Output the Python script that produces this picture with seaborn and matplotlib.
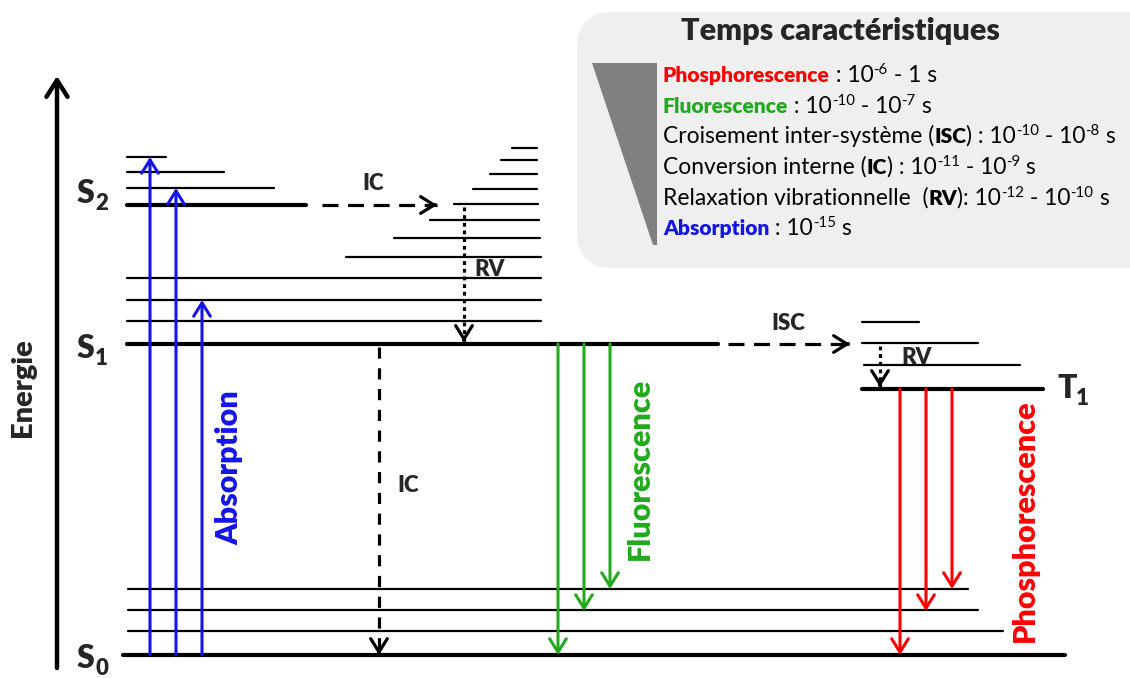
import matplotlib
matplotlib.use("Agg")
import matplotlib.pyplot as plt
from matplotlib.patches import FancyBboxPatch, Polygon
import seaborn as sns
import pandas as pd

# ---------------- data (diagram coordinates, image pixel units) ----------------
# energy levels: (y, x_start, x_end)
thick_levels_y = [655, 344, 205, 389]          # S0, S1, S2, T1
thick_levels_x0 = [123, 127, 127, 862]
thick_levels_x1 = [1065, 718, 306, 1043]

thin_levels_y = [631, 610, 589,                 # S0 vibrational
                 321, 300, 278,                 # S1 vibrational (long)
                 257, 238, 220, 204, 189, 174, 160, 148,   # S1 ladder to S2
                 188, 172, 157,                 # S2 vibrational
                 322, 343, 365]                 # T1 vibrational
thin_levels_x0 = [128, 128, 128,
                  127, 127, 127,
                  346, 394, 430, 454, 473, 490, 501, 512,
                  127, 127, 127,
                  862, 862, 864]
thin_levels_x1 = [1003, 978, 968,
                  541, 541, 541,
                  541, 540, 539, 538, 537, 537, 537, 537,
                  274, 224, 166,
                  919, 978, 1020]

absorption_x = [150, 176, 202]
absorption_top = [157, 188, 300]
fluo_x = [558, 584, 610]
fluo_end = [655, 611, 589]
phospho_x = [900, 926, 952]
phospho_end = [655, 611, 589]

level_labels = ["S", "S", "S", "T"]
level_subs = ["2", "1", "0", "1"]

legend_title = "Temps caractéristiques"

BLUE = "#1414e6"
GREEN = "#22aa1e"
RED = "#ff0000"
HEAVY = 800

# ---------------- figure ----------------
sns.set_theme(style="white")
plt.rcParams["font.family"] = ["Lato", "DejaVu Sans"]

fig = plt.figure(figsize=(11.3, 6.78), dpi=100)
ax = fig.add_axes([0, 0, 1, 1])

rows = []
for i, (y, a, b) in enumerate(zip(thin_levels_y, thin_levels_x0, thin_levels_x1)):
    rows += [dict(x=a, y=y, seg=i), dict(x=b, y=y, seg=i)]
df_thin = pd.DataFrame(rows)
rows = []
for i, (y, a, b) in enumerate(zip(thick_levels_y, thick_levels_x0, thick_levels_x1)):
    rows += [dict(x=a, y=y, seg=i), dict(x=b, y=y, seg=i)]
df_thick = pd.DataFrame(rows)

sns.lineplot(data=df_thin, x="x", y="y", units="seg", estimator=None, sort=False,
             color="black", lw=1.6, ax=ax)
sns.lineplot(data=df_thick, x="x", y="y", units="seg", estimator=None, sort=False,
             color="black", lw=3.0, ax=ax)

ax.set_xlim(0, 1130)
ax.set_ylim(678, 0)
ax.axis("off")


def arrow(x0, y0, x1, y1, color, lw=2.2, hl=0.48, hw=0.3):
    ax.annotate("", xy=(x1, y1), xytext=(x0, y0),
                arrowprops=dict(arrowstyle=f"->,head_length={hl},head_width={hw}",
                                color=color, lw=lw, shrinkA=0, shrinkB=0,
                                mutation_scale=20))


def styled_arrow(x0, y0, x1, y1, dashes, lw=2.2, hl=0.48, hw=0.3):
    ax.plot([x0, x1], [y0, y1], color="black", lw=lw, dashes=dashes,
            solid_capstyle="butt", dash_capstyle="butt")
    dx = (x1 - x0)
    dy = (y1 - y0)
    n = (dx ** 2 + dy ** 2) ** 0.5
    arrow(x1 - dx / n * 2, y1 - dy / n * 2, x1, y1, "black", lw=lw, hl=hl, hw=hw)


# energy axis
arrow(57, 668, 57, 76, "black", lw=3.2, hl=0.6, hw=0.38)
ax.text(23, 388, "Energie", rotation=90, ha="center", va="center",
        fontsize=21, fontweight=HEAVY)

# absorption
for x, top in zip(absorption_x, absorption_top):
    arrow(x, 655, x, top, BLUE)
# fluorescence
for x, e in zip(fluo_x, fluo_end):
    arrow(x, 344, x, e, GREEN)
# phosphorescence
for x, e in zip(phospho_x, phospho_end):
    arrow(x, 389, x, e, RED)

# non-radiative transitions
styled_arrow(322, 205, 437, 205, (5, 3), lw=2.3)          # IC S2 -> S1
styled_arrow(728, 344, 850, 344, (5, 3), lw=2.3)          # ISC
styled_arrow(379, 347, 379, 655, (3.5, 3.0), lw=2.3)      # IC S1 -> S0
styled_arrow(464, 207, 464, 342, (1.2, 1.2), lw=2.3)      # RV
styled_arrow(880, 346, 880, 387, (1.2, 1.2), lw=2.3)      # RV triplet

LBL = 16
ax.text(373, 183, "IC", ha="center", va="center", fontsize=LBL, fontweight=HEAVY)
ax.text(408, 485, "IC", ha="center", va="center", fontsize=LBL, fontweight=HEAVY)
ax.text(490, 269, "RV", ha="center", va="center", fontsize=LBL, fontweight=HEAVY)
ax.text(917, 357, "RV", ha="center", va="center", fontsize=LBL, fontweight=HEAVY)
ax.text(788, 324, "ISC", ha="center", va="center", fontsize=LBL, fontweight=HEAVY)

# rotated process labels
ROT = 22.0
ax.text(229, 468, "Absorption", rotation=90, ha="center", va="center",
        fontsize=ROT, fontweight=HEAVY, color=BLUE)
ax.text(640, 469, "Fluorescence", rotation=90, ha="center", va="center",
        fontsize=ROT, fontweight=HEAVY, color=GREEN)
ax.text(1025, 521, "Phosphorescence", rotation=90, ha="center", va="center",
        fontsize=ROT, fontweight=HEAVY, color=RED)

# state labels
label_pos = [(77, 203), (77, 358), (77, 668), (1057, 398)]
for (x, y), lab, sub in zip(label_pos, level_labels, level_subs):
    ax.text(x, y, lab, fontsize=23, fontweight=HEAVY, va="baseline", ha="left")
    ax.text(x + (18 if lab == "S" else 19), y + 7, sub, fontsize=16,
            fontweight=HEAVY, va="baseline", ha="left")

# legend box
box = FancyBboxPatch((577, 12), 610, 256, boxstyle="round,pad=0,rounding_size=36",
                     facecolor="#efefef", edgecolor="none", zorder=0)
ax.add_patch(box)
ax.add_patch(Polygon([[592, 63], [657, 63], [657, 245], [653, 245]],
                     closed=True, facecolor="#808080", edgecolor="none"))
ax.text(840, 31, legend_title, ha="center", va="center", fontsize=22.0,
        fontweight=HEAVY)

renderer = fig.canvas.get_renderer()
K = "black"
legend_lines = [
    [("Phosphorescence", RED, "bold", False), (" : 10", K, "normal", False),
     ("-6", K, "normal", True), (" - 1 s", K, "normal", False)],
    [("Fluorescence", GREEN, "bold", False), (" : 10", K, "normal", False),
     ("-10", K, "normal", True), (" - 10", K, "normal", False),
     ("-7", K, "normal", True), (" s", K, "normal", False)],
    [("Croisement inter-système (", K, "normal", False), ("ISC", K, "bold", False),
     (") : 10", K, "normal", False), ("-10", K, "normal", True),
     (" - 10", K, "normal", False), ("-8", K, "normal", True), (" s", K, "normal", False)],
    [("Conversion interne (", K, "normal", False), ("IC", K, "bold", False),
     (") : 10", K, "normal", False), ("-11", K, "normal", True),
     (" - 10", K, "normal", False), ("-9", K, "normal", True), (" s", K, "normal", False)],
    [("Relaxation vibrationnelle  (", K, "normal", False), ("RV", K, "bold", False),
     ("): 10", K, "normal", False), ("-12", K, "normal", True),
     (" - 10", K, "normal", False), ("-10", K, "normal", True), (" s", K, "normal", False)],
    [("Absorption", BLUE, "bold", False), (" : 10", K, "normal", False),
     ("-15", K, "normal", True), (" s", K, "normal", False)],
]
baselines = [82, 113, 143, 174, 205, 235]
BASE = 16.4
for yb, segs in zip(baselines, legend_lines):
    x = 663
    for s, c, w, sup in segs:
        size = BASE * 0.66 if sup else (BASE * 0.92 if w == "bold" else BASE)
        yy = yb - 8 if sup else yb
        t = ax.text(x, yy, s, color=c, fontweight=(HEAVY if w == "bold" else "normal"),
                    fontsize=size, va="baseline", ha="left")
        x += t.get_window_extent(renderer).width

fig.savefig("out.png", dpi=100)
